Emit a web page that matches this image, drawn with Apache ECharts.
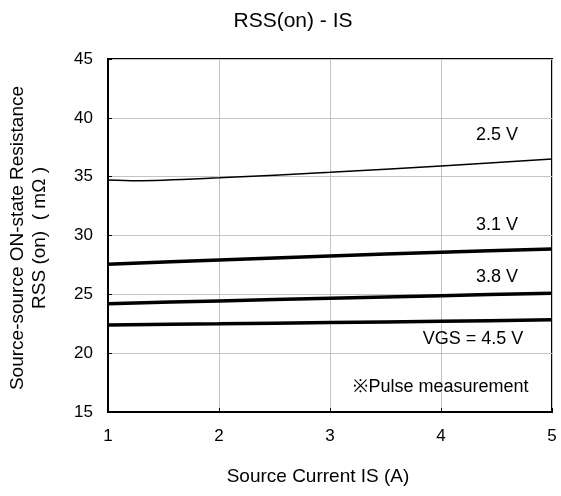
<!DOCTYPE html>
<html>
<head>
<meta charset="utf-8">
<script src="https://cdn.jsdelivr.net/npm/echarts@6/dist/echarts.min.js"></script>
<style>
html,body{margin:0;padding:0;background:#fff;}
#c{width:561px;height:496px;}
</style>
</head>
<body>
<div id="c"></div>
<script>
// Data
const title = 'RSS(on) - IS';
const xName = 'Source Current IS (A)';
const yNameLines = ['Source-source ON-state Resistance', 'RSS (on)  ( mΩ )'];
const xTicks = [1, 2, 3, 4, 5];
const yTicks = [15, 20, 25, 30, 35, 40, 45];

const x25 = [1, 1.25, 2, 3, 4, 5];
const v25 = [34.72, 34.66, 34.9, 35.37, 35.9, 36.5];
const x31 = [1, 2, 3, 4, 5];
const v31 = [27.56, 27.92, 28.26, 28.58, 28.86];
const x38 = [1, 2, 3, 4, 5];
const v38 = [24.21, 24.44, 24.67, 24.89, 25.1];
const x45 = [1, 2, 3, 4, 5];
const v45 = [22.4, 22.49, 22.6, 22.71, 22.83];

const seriesNames = ['2.5 V', '3.1 V', '3.8 V', 'VGS = 4.5 V'];
const noteText = '※Pulse measurement';

const FONT = "'Liberation Sans', Arial, sans-serif";
const pair = (xs, ys) => xs.map((x, i) => [x, ys[i]]);

const chart = echarts.init(document.getElementById('c'), null, {renderer: 'canvas'});

function lineSeries(name, xs, ys, w) {
  return {
    name: name, type: 'line', data: pair(xs, ys), smooth: 0.3,
    showSymbol: false, symbol: 'none',
    lineStyle: {color: '#000', width: w}, z: 5, silent: true
  };
}

function txt(t, x, y, size, align) {
  return {
    type: 'text', x: x, y: y, z: 10, silent: true,
    style: {text: t, fill: '#000', font: size + 'px ' + FONT,
            textAlign: align || 'center', textVerticalAlign: 'middle'}
  };
}

chart.setOption({
  animation: false,
  backgroundColor: '#fff',
  grid: {left: 108, right: 9, top: 59, bottom: 84, show: true,
         borderColor: '#000', borderWidth: 2, backgroundColor: 'transparent'},
  xAxis: {
    type: 'value', min: xTicks[0], max: xTicks[xTicks.length - 1], interval: 1,
    axisLine: {show: true, lineStyle: {color: '#000', width: 2}},
    axisTick: {show: true, inside: true, length: 4, lineStyle: {color: '#000'}},
    axisLabel: {color: '#000', fontSize: 17, fontFamily: FONT, margin: 16},
    splitLine: {show: true, lineStyle: {color: '#c4c4c4', width: 1}}
  },
  yAxis: {
    type: 'value', min: yTicks[0], max: yTicks[yTicks.length - 1], interval: 5,
    axisLine: {show: true, lineStyle: {color: '#000', width: 2}},
    axisTick: {show: true, inside: true, length: 4, lineStyle: {color: '#000'}},
    axisLabel: {color: '#000', fontSize: 17, fontFamily: FONT, margin: 15},
    splitLine: {show: true, lineStyle: {color: '#c4c4c4', width: 1}}
  },
  series: [
    lineSeries(seriesNames[0], x25, v25, 1.5),
    lineSeries(seriesNames[1], x31, v31, 3.5),
    lineSeries(seriesNames[2], x38, v38, 3.5),
    lineSeries(seriesNames[3], x45, v45, 3.5)
  ],
  graphic: [
    txt(title, 293, 21, 21),
    txt(xName, 318, 477, 19),
    {
      type: 'text', x: 29, y: 238, rotation: Math.PI / 2, z: 10, silent: true,
      style: {text: yNameLines.join('\n'), fill: '#000', font: '19px ' + FONT,
              textAlign: 'center', textVerticalAlign: 'middle', lineHeight: 22}
    },
    txt(seriesNames[0], 497, 135, 18),
    txt(seriesNames[1], 497, 225, 18),
    txt(seriesNames[2], 497, 277, 18),
    txt(seriesNames[3], 473, 339, 18),
    txt(noteText, 441, 387, 18)
  ]
});
</script>
</body>
</html>
